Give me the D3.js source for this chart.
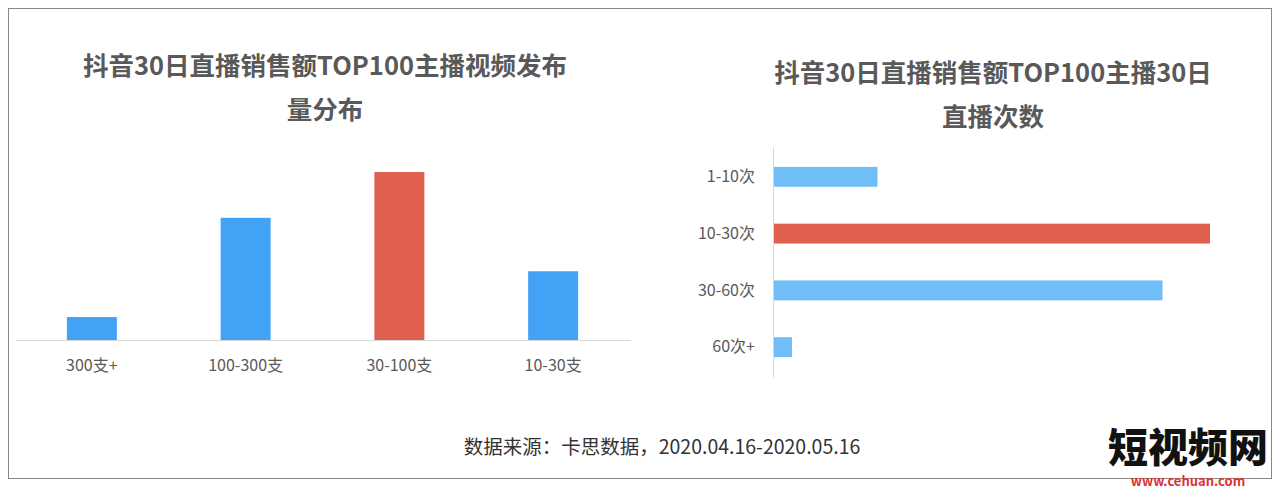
<!DOCTYPE html>
<html><head><meta charset="utf-8">
<script src="https://cdn.jsdelivr.net/npm/d3@7"></script>
<style>body{margin:0;background:#fff;font-family:"Noto Sans CJK SC","Noto Sans",sans-serif}</style>
</head><body>
<svg id="c" width="1280" height="490"></svg>
<script>
const videoCats = ["300支+", "100-300支", "30-100支", "10-30支"];
const videoVals = [6, 32, 44, 18];
const liveCats = ["1-10次", "10-30次", "30-60次", "60次+"];
const liveVals = [11, 46, 41, 2];
const highlight = ["30-100支", "10-30次"];

const svg = d3.select("#c");
svg.append("rect").attr("x", 8.5).attr("y", 8.5).attr("width", 1263).attr("height", 470)
  .attr("fill", "none").attr("stroke", "#888");

function title(lines, cx, y0) {
  lines.forEach((t, i) => svg.append("text").attr("x", cx).attr("y", y0 + i * 44)
    .attr("text-anchor", "middle").attr("font-size", 25.5).attr("font-weight", "bold")
    .attr("fill", "#595959").text(t));
}
title(["抖音30日直播销售额TOP100主播视频发布", "量分布"], 325, 75);
title(["抖音30日直播销售额TOP100主播30日", "直播次数"], 993, 82);

// left chart
const x = d3.scaleBand().domain(videoCats).range([15, 630]).paddingInner(0.675).paddingOuter(0.3375);
const y = d3.scaleLinear().domain([0, 44]).range([340, 172]);
svg.selectAll(".vb").data(videoVals).join("rect")
  .attr("x", (d, i) => x(videoCats[i])).attr("width", x.bandwidth())
  .attr("y", d => y(d)).attr("height", d => 340 - y(d))
  .attr("fill", (d, i) => highlight.includes(videoCats[i]) ? "#e06050" : "#42a2f5");
const xa = svg.append("g").attr("transform", "translate(0,340)").call(d3.axisBottom(x).tickSize(0).tickPadding(20));
xa.select(".domain").attr("stroke", "#d9d9d9");
xa.selectAll("text").attr("font-size", 16).attr("fill", "#595959").attr("font-family", "Noto Sans CJK SC");

// right chart
const yb = d3.scaleBand().domain(liveCats).range([147, 377]).paddingInner(0.65).paddingOuter(0.35);
const xb = d3.scaleLinear().domain([0, 46]).range([773, 1210]);
svg.selectAll(".lb").data(liveVals).join("rect")
  .attr("y", (d, i) => yb(liveCats[i])).attr("height", yb.bandwidth())
  .attr("x", 773).attr("width", d => xb(d) - 773)
  .attr("fill", (d, i) => highlight.includes(liveCats[i]) ? "#e06050" : "#6fbef7");
const ya = svg.append("g").attr("transform", "translate(773,0)").call(d3.axisLeft(yb).tickSize(0).tickPadding(18));
ya.select(".domain").attr("stroke", "#d9d9d9");
ya.selectAll("text").attr("font-size", 16).attr("fill", "#595959").attr("font-family", "Noto Sans CJK SC");

svg.append("text").attr("x", 662).attr("y", 454).attr("text-anchor", "middle")
  .attr("font-size", 19.5).attr("fill", "#333").text("数据来源：卡思数据，2020.04.16-2020.05.16");

// watermark
svg.append("text").attr("x", 1188).attr("y", 462).attr("text-anchor", "middle")
  .attr("font-size", 40).attr("font-weight", "900").attr("fill", "#111").text("短视频网");
svg.append("text").attr("x", 1188).attr("y", 486).attr("text-anchor", "middle")
  .attr("font-size", 13).attr("font-weight", "bold").attr("fill", "#d33").text("www.cehuan.com");
</script>
</body></html>
